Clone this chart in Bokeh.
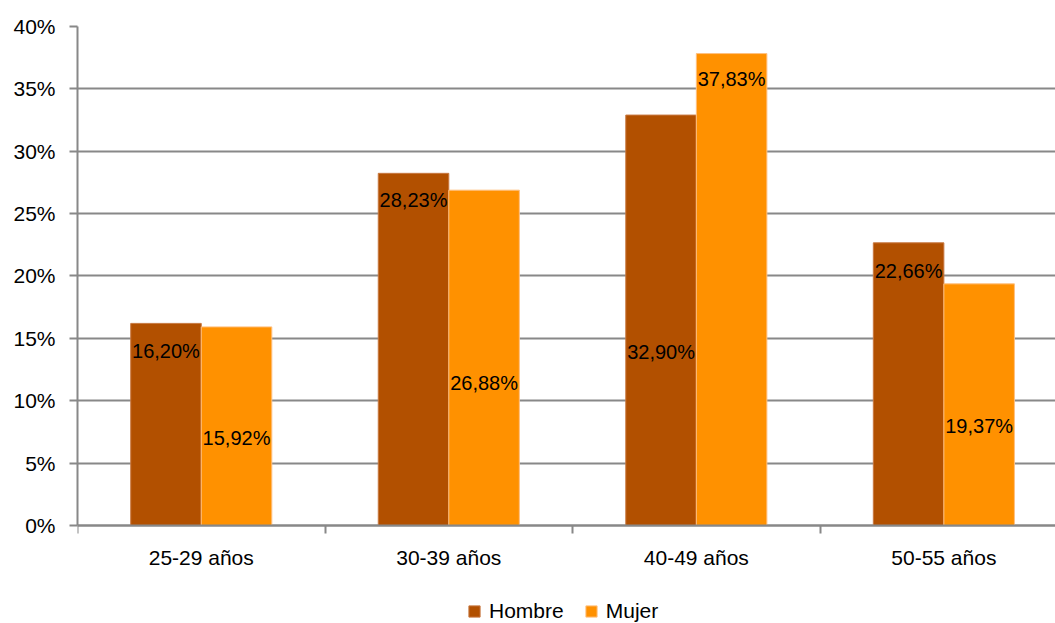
from bokeh.plotting import figure
from bokeh.models import (ColumnDataSource, FixedTicker, Legend, LegendItem, Range1d, LabelSet)
from bokeh.core.properties import value
from bokeh.transform import dodge
from bokeh.embed import file_html
from bokeh.resources import INLINE

categories = ["25-29 años", "30-39 años", "40-49 años", "50-55 años"]
hombre = [16.20, 28.23, 32.90, 22.66]
mujer = [15.92, 26.88, 37.83, 19.37]
# vertical position (in %) where each data label sits, as in the original
hombre_label_y = [14.0, 26.1, 13.9, 20.4]
mujer_label_y = [7.0, 11.4, 35.8, 8.0]
y_ticks = [0, 5, 10, 15, 20, 25, 30, 35, 40]

FONT = "Liberation Sans"
C_H = "#B25000"
C_M = "#FF9100"

def fmt(v):
    return f"{v:.2f}".replace(".", ",") + "%"

centers = [i + 0.5 for i in range(len(categories))]
src = ColumnDataSource(dict(
    x=centers,
    hombre=hombre, mujer=mujer,
    hy=hombre_label_y, my=mujer_label_y,
    hl=[fmt(v) for v in hombre], ml=[fmt(v) for v in mujer],
))

# frame runs to the bottom edge so the legend can sit inside it, below the x axis
p = figure(width=1055, height=623, output_backend="svg", toolbar_location=None,
           x_range=Range1d(0, 3.951), y_range=Range1d(-7.856, 40),
           min_border_left=77, min_border_right=0, min_border_top=26, min_border_bottom=0)
p.outline_line_color = None
p.background_fill_color = "white"

bw = 0.285
rh = p.vbar(x=dodge("x", -bw / 2, range=p.x_range), top="hombre", width=bw, source=src,
            fill_color=C_H, line_color="#C87840", line_width=1)
rm = p.vbar(x=dodge("x", bw / 2, range=p.x_range), top="mujer", width=bw, source=src,
            fill_color=C_M, line_color="#FFC080", line_width=1)

for xcol, ycol, tcol, off in (("x", "hy", "hl", -bw / 2), ("x", "my", "ml", bw / 2)):
    p.add_layout(LabelSet(x=dodge(xcol, off, range=p.x_range), y=ycol, text=tcol, source=src,
                          text_align="center", text_baseline="middle", text_font=value(FONT),
                          text_font_size="20px", text_color="black"))

# y axis
p.yaxis.ticker = FixedTicker(ticks=y_ticks)
p.yaxis.bounds = (0, 40)
p.yaxis.major_label_overrides = {t: f"{t}%" for t in y_ticks}
p.yaxis.major_label_text_font = FONT
p.yaxis.major_label_text_font_size = "21px"
p.yaxis.major_label_text_color = "black"
p.yaxis.axis_line_color = "#888888"
p.yaxis.axis_line_width = 2
p.yaxis.major_tick_line_color = "#888888"
p.yaxis.major_tick_line_width = 2
p.yaxis.major_tick_out = 8
p.yaxis.major_tick_in = 0
p.yaxis.minor_tick_line_color = None
p.yaxis.major_label_standoff = 14

# x axis, drawn at y = 0
p.xaxis.fixed_location = 0
p.xaxis.ticker = FixedTicker(ticks=centers, minor_ticks=[0, 1, 2, 3, 4])
p.xaxis.major_label_overrides = {c: cat for c, cat in zip(centers, categories)}
p.xaxis.major_label_text_font = FONT
p.xaxis.major_label_text_font_size = "21px"
p.xaxis.major_label_text_color = "black"
p.xaxis.axis_line_color = "#888888"
p.xaxis.axis_line_width = 2
p.xaxis.major_tick_line_color = None
p.xaxis.major_tick_out = 0
p.xaxis.major_tick_in = 0
p.xaxis.minor_tick_line_color = "#888888"
p.xaxis.minor_tick_line_width = 2
p.xaxis.minor_tick_out = 8
p.xaxis.minor_tick_in = 0
p.xaxis.major_label_standoff = 13

p.xgrid.grid_line_color = None
p.ygrid.ticker = FixedTicker(ticks=y_ticks)
p.ygrid.grid_line_color = "#888888"
p.ygrid.grid_line_width = 2

legend = Legend(items=[LegendItem(label="Hombre", renderers=[rh]),
                       LegendItem(label="Mujer", renderers=[rm])],
                orientation="horizontal", location=(390, 0),
                label_text_font=FONT, label_text_font_size="21px", label_text_color="black",
                glyph_width=14, glyph_height=14, label_standoff=8, spacing=20,
                padding=0, margin=0, border_line_color=None, background_fill_alpha=0)
p.add_layout(legend)

open("out.html", "w").write(file_html(p, INLINE))
